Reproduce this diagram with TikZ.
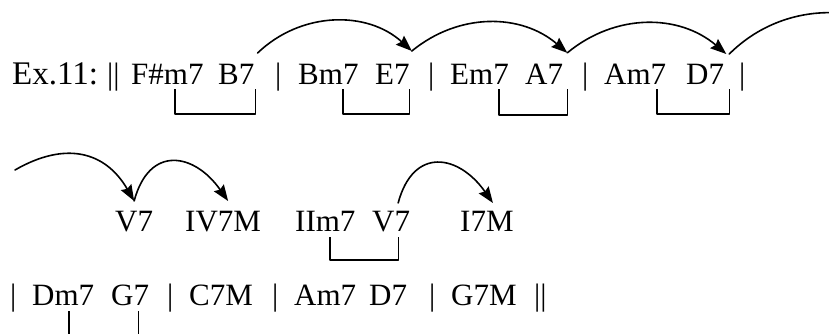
\documentclass[tikz,border=0pt]{standalone}
\usepackage{fontspec}
\setmainfont{Liberation Serif}
\usepackage{tikz}
\usetikzlibrary{arrows.meta}
\tikzset{
  every picture/.style={line join=round, line cap=round, >=Stealth},
  chord/.style={anchor=base west, inner sep=0pt, font=\fontsize{31}{37}\selectfont},
  hopline/.style={line width=1.6pt},
  hop/.style={hopline, -{Stealth[length=16pt,width=12pt,inset=2pt]}},
  pair/.style={line width=1.3pt, line cap=butt},
}

\begin{document}
\begin{tikzpicture}[x=1pt,y=1pt]
\useasboundingbox (0,0) rectangle (829,333);
\clip (0,0) rectangle (829,333);
% first line
\node[chord, font=\fontsize{33}{37}\selectfont] (ex) at (12,248.5) {Ex.11:};
\node[chord] (dbl) at (107,248.5) {||};
\node[chord] (fsm7) at (131,248.5) {F\#m7};
\node[chord] (b7) at (218,248.5) {B7};
\node[chord] (bar1) at (275,248.5) {|};
\node[chord] (bm7) at (298,248.5) {Bm7};
\node[chord] (e7) at (375,248.5) {E7};
\node[chord] (bar2) at (428,248.5) {|};
\node[chord] (em7) at (450,248.5) {Em7};
\node[chord] (a7) at (525,248.5) {A7};
\node[chord] (bar3) at (582,248.5) {|};
\node[chord] (am7) at (604,248.5) {Am7};
\node[chord] (d7) at (686,248.5) {D7};
\node[chord] (bar4) at (739,248.5) {|};
\draw[pair] ([shift={(44,-4.5)}]fsm7.base west) -- ++(0,-25) -| ([shift={(1,-4.5)}]b7.base east);
\draw[pair] ([shift={(45,-4.5)}]bm7.base west) -- ++(0,-25) -| ([shift={(0,-4.5)}]e7.base east);
\draw[pair] ([shift={(49,-4.5)}]em7.base west) -- ++(0,-26) -| ([shift={(4,-4.5)}]a7.base east);
\draw[pair] ([shift={(53,-4.5)}]am7.base west) -- ++(0,-25) -| ([shift={(5,-4.5)}]d7.base east);
\draw[hop] ([shift={(3,11)}]b7.north east) to[bend left=43] ([shift={(2,13)}]e7.north east);
\draw[hop] ([shift={(2,13)}]e7.north east) to[bend left=40] ([shift={(4,11)}]a7.north east);
\draw[hop] ([shift={(4,11)}]a7.north east) to[bend left=40] ([shift={(2,10)}]d7.north east);
\draw[hopline] ([shift={(5,10)}]d7.north east) to[bend left=45] ++(200,0);
% second line
\node[chord] (v7a) at (115,101.5) {V7};
\node[chord] (iv7m) at (185,101.5) {IV7M};
\node[chord] (iim7) at (295,101.5) {IIm7};
\node[chord] (v7b) at (372,101.5) {V7};
\node[chord] (i7m) at (460,101.5) {I7M};
\coordinate (from) at (15,163);
\draw[hop] (from) to[out=30,in=120,looseness=1.2] ([yshift=10]v7a.north);
\draw[hop] ([yshift=10]v7a.north) to[out=75,in=125,looseness=1.6] ([shift={(5,10)}]iv7m.north);
\draw[hop] ([shift={(7,8)}]v7b.north) to[out=75,in=125,looseness=1.6] ([shift={(6,8)}]i7m.north);
\draw[pair] ([shift={(35,-5.5)}]iim7.base west) -- ++(0,-23) -| ([shift={(-12,-5.5)}]v7b.base east);
% third line
\node[chord] (bar5) at (10,28) {|};
\node[chord] (dm7) at (32,28) {Dm7};
\node[chord] (g7) at (111,28) {G7};
\node[chord] (bar6) at (167,28) {|};
\node[chord] (c7m) at (189,28) {C7M};
\node[chord] (bar7) at (272,28) {|};
\node[chord] (am7b) at (294,28) {Am7};
\node[chord] (d7b) at (369,28) {D7};
\node[chord] (bar8) at (429,28) {|};
\node[chord] (g7m) at (451,28) {G7M};
\node[chord] (dbl2) at (534,28) {||};
\draw[pair] ([shift={(37,-6)}]dm7.base west) -- ++(0,-32) -| ([shift={(-11,-6)}]g7.base east);
\end{tikzpicture}
\end{document}
